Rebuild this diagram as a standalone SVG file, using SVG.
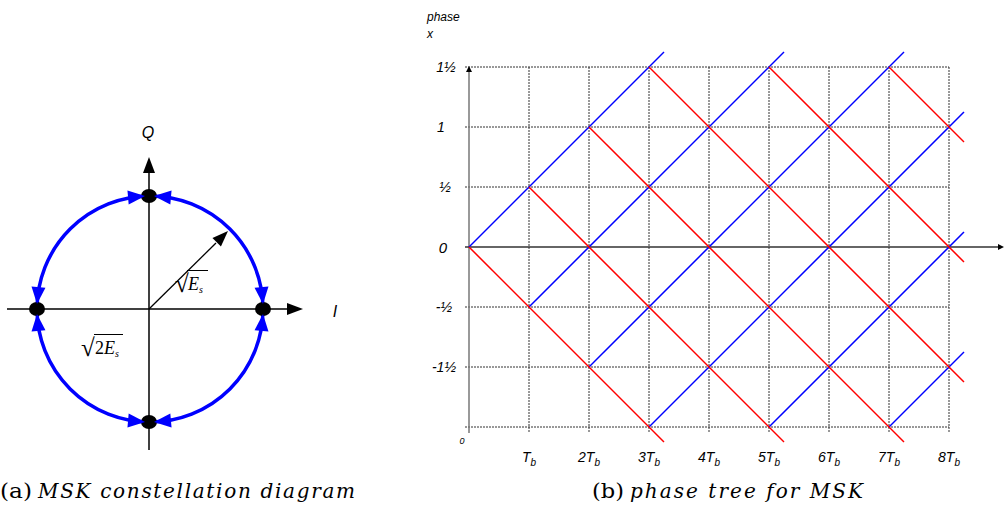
<svg xmlns="http://www.w3.org/2000/svg" width="1004" height="518" viewBox="0 0 1004 518">
<style>
.ax{stroke:#000;stroke-width:1.5;fill:none}
.circ{stroke:#0000ff;stroke-width:3.5;fill:none}
.grid{stroke:#333;stroke-width:1;stroke-dasharray:2 1;fill:none}
.blue{stroke:#0000ff;stroke-width:1.5;fill:none}
.red{stroke:#ff0000;stroke-width:1.5;fill:none}
.sans{font-family:"Liberation Sans",Arial,sans-serif;font-style:italic;fill:#000}
.serif{font-family:"Liberation Serif","Times New Roman",serif;fill:#000}
.cap{font-family:"DejaVu Serif","Liberation Serif",serif;fill:#000;font-size:20px}
.it{font-style:italic}
.ylab{font-size:14px;text-anchor:middle}
.xlab{font-size:14px;text-anchor:middle}
</style>
<defs>
<path id="ah" d="M0,0 L-17,-7 L-17,7 Z" fill="#0000ff"/>
<path id="bh" d="M0,0 L-16,-6 L-16,6 Z" fill="#000"/>
<path id="sh" d="M0,0 L-6,-3 L-6,3 Z"/>
</defs>

<g id="constellation">
  <g id="axes-iq">
    <line class="ax" x1="7" y1="309" x2="290" y2="309"/>
    <use href="#bh" transform="translate(303,309)"/>
    <line class="ax" x1="149" y1="450" x2="149" y2="172"/>
    <use href="#bh" transform="translate(149,157) rotate(-90)"/>
    <text class="sans" x="148" y="138" font-size="16" text-anchor="middle">Q</text>
    <text class="sans" x="335" y="317" font-size="16" text-anchor="middle">I</text>
  </g>
  <circle id="trajectory" class="circ" cx="150" cy="309" r="113"/>
  <g id="radius-vector">
    <line x1="149" y1="309" x2="216" y2="243" stroke="#000" stroke-width="1.3"/>
    <use href="#bh" transform="translate(228,231) rotate(-45)"/>
  </g>
  <g id="points">
    <ellipse cx="149" cy="196" rx="8" ry="7"/>
    <ellipse cx="149" cy="422" rx="8" ry="7"/>
    <ellipse cx="37" cy="309" rx="8" ry="7"/>
    <ellipse cx="263" cy="309" rx="8" ry="7"/>
  </g>
  <g id="direction-arrows">
    <use href="#ah" transform="translate(145,196) rotate(-5)"/>
    <use href="#ah" transform="translate(154,196) rotate(185)"/>
    <use href="#ah" transform="translate(145,422) rotate(5)"/>
    <use href="#ah" transform="translate(154,422) rotate(175)"/>
    <use href="#ah" transform="translate(37,304) rotate(95)"/>
    <use href="#ah" transform="translate(37,314) rotate(-95)"/>
    <use href="#ah" transform="translate(263,304) rotate(85)"/>
    <use href="#ah" transform="translate(263,314) rotate(-85)"/>
  </g>
  <g id="label-es">
    <text class="serif" x="175" y="292" font-size="25">√</text>
    <line x1="187" y1="270.5" x2="208" y2="270.5" stroke="#000" stroke-width="1"/>
    <text class="serif it" x="188" y="290" font-size="18">E<tspan font-size="10" dy="3">s</tspan></text>
  </g>
  <g id="label-2es">
    <text class="serif" x="81" y="356" font-size="25">√</text>
    <line x1="94" y1="334.5" x2="123" y2="334.5" stroke="#000" stroke-width="1"/>
    <text class="serif" x="95" y="354" font-size="18">2<tspan class="it">E</tspan><tspan class="it" font-size="10" dy="3">s</tspan></text>
  </g>
</g>

<g id="phase-tree">
  <g id="grid">
    <path class="grid" d="M465,67H949M465,127H949M465,187H949M465,307H949M465,367H949M465,427H949"/>
    <path class="grid" d="M529,67V432M589,67V432M649,67V432M709,67V432M769,67V432M829,67V432M889,67V432M949,67V432"/>
  </g>
  <g id="axes-phase">
    <line x1="469" y1="433" x2="469" y2="72" stroke="#777" stroke-width="1.5"/>
    <use href="#sh" transform="translate(469,66) rotate(-90)" fill="#000"/>
    <line x1="465" y1="247" x2="998" y2="247" stroke="#333" stroke-width="1.3"/>
    <use href="#sh" transform="translate(1004,247)" fill="#000"/>
  </g>
  <g id="connectors">
    <g id="up-paths">
      <line class="blue" x1="469" y1="247" x2="664" y2="52"/>
      <line class="blue" x1="529" y1="307" x2="784" y2="52"/>
      <line class="blue" x1="589" y1="367" x2="904" y2="52"/>
      <line class="blue" x1="649" y1="427" x2="964" y2="112"/>
      <line class="blue" x1="769" y1="427" x2="964" y2="232"/>
      <line class="blue" x1="889" y1="427" x2="964" y2="352"/>
    </g>
    <g id="down-paths">
      <line class="red" x1="469" y1="247" x2="664" y2="442"/>
      <line class="red" x1="529" y1="187" x2="784" y2="442"/>
      <line class="red" x1="589" y1="127" x2="904" y2="442"/>
      <line class="red" x1="649" y1="67" x2="964" y2="382"/>
      <line class="red" x1="769" y1="67" x2="964" y2="262"/>
      <line class="red" x1="889" y1="67" x2="964" y2="142"/>
    </g>
  </g>
  <g id="y-labels" class="sans ylab">
    <text x="427" y="21" font-size="12" text-anchor="start">phase</text>
    <text x="427" y="38" font-size="12" text-anchor="start">x</text>
    <text x="446" y="72">1½</text>
    <text x="441" y="132">1</text>
    <text x="445" y="192">½</text>
    <text x="443" y="253" font-size="15">0</text>
    <text x="444" y="312">-½</text>
    <text x="444" y="372">-1½</text>
  </g>
  <g id="x-labels" class="sans xlab">
    <text x="462" y="444" font-size="9">0</text>
    <text x="529" y="462">T<tspan font-size="10" dy="4">b</tspan></text>
    <text x="589" y="462">2T<tspan font-size="10" dy="4">b</tspan></text>
    <text x="649" y="462">3T<tspan font-size="10" dy="4">b</tspan></text>
    <text x="709" y="462">4T<tspan font-size="10" dy="4">b</tspan></text>
    <text x="769" y="462">5T<tspan font-size="10" dy="4">b</tspan></text>
    <text x="829" y="462">6T<tspan font-size="10" dy="4">b</tspan></text>
    <text x="889" y="462">7T<tspan font-size="10" dy="4">b</tspan></text>
    <text x="949" y="462">8T<tspan font-size="10" dy="4">b</tspan></text>
  </g>
</g>

<g id="captions">
  <text class="cap" x="0" y="498" textLength="32" lengthAdjust="spacingAndGlyphs">(a)</text>
  <text class="cap it" x="38" y="498" textLength="317" lengthAdjust="spacing">MSK constellation diagram</text>
  <text class="cap" x="592" y="498" textLength="32" lengthAdjust="spacingAndGlyphs">(b)</text>
  <text class="cap it" x="630" y="498" textLength="233" lengthAdjust="spacing">phase tree for MSK</text>
</g>
</svg>
